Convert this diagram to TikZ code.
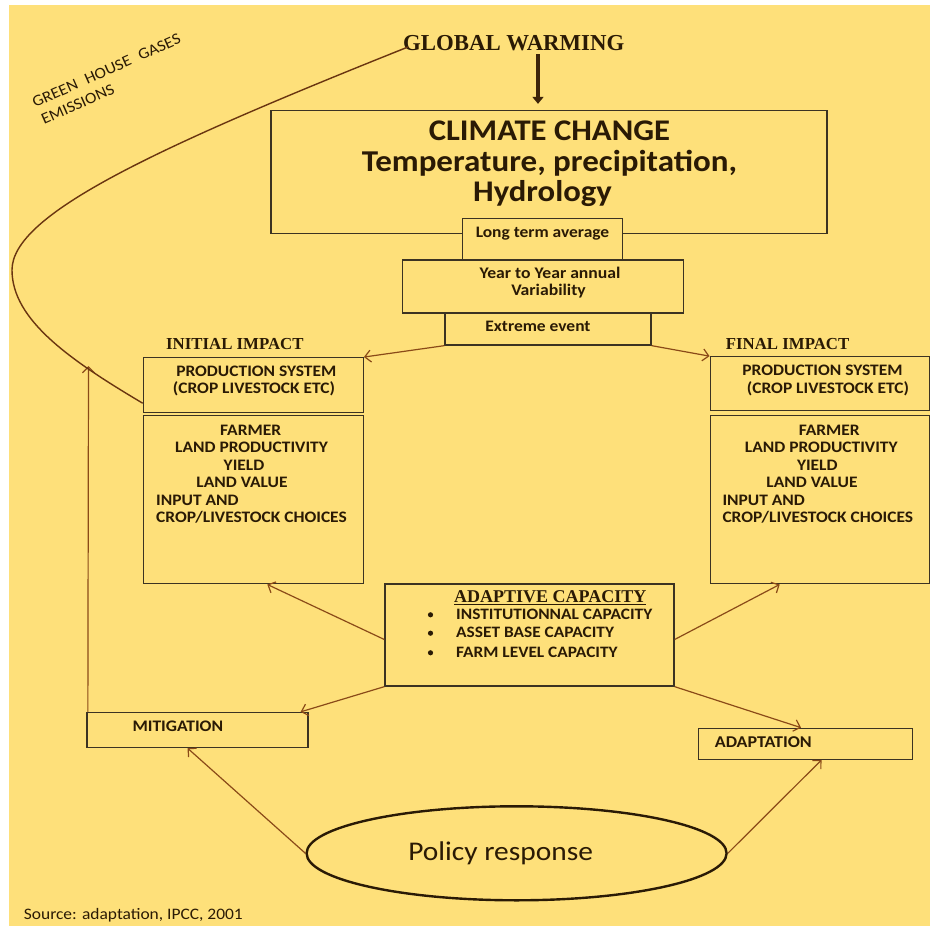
\documentclass[tikz,border=0pt]{standalone}
\usepackage{fontspec}
\setmainfont{Carlito}[FakeStretch=1.09]
\newfontfamily\tnr{Liberation Serif}
\usetikzlibrary{arrows.meta,calc,shapes.geometric}
\definecolor{bgy}{HTML}{FEE07A}
\definecolor{ink}{HTML}{2A1A05}
\definecolor{conncol}{HTML}{8A4A18}
\definecolor{curvecol}{HTML}{6A3510}
\definecolor{boxline}{HTML}{3C3322}
\newcommand{\fs}[1]{\fontsize{#1}{#1}\selectfont}
\begin{document}
\begin{tikzpicture}[x=1pt,y=-1pt,
  box/.style={draw=boxline,line width=1.3pt,fill=bgy,inner sep=0pt},
  lbl/.style={text=ink,inner sep=0pt,anchor=base,font=\bfseries\fs{16}},
  lbll/.style={text=ink,inner sep=0pt,anchor=base west,font=\bfseries\fs{16}},
  head/.style={text=ink,inner sep=0pt,anchor=base west,font=\tnr\bfseries\fs{16.8}},
  conn/.style={draw=conncol,line width=1.2pt,-{Straight Barb[length=6pt,width=12pt]}},
  bigarrow/.style={draw=ink!80!conncol,line width=4.5pt,-{Triangle[length=7pt,width=11pt]}}]
\useasboundingbox (0,0) rectangle (930,926);
\fill[bgy] (9,5) rectangle (930,926);

% top
\node[text=ink,inner sep=0pt,anchor=base west,font=\tnr\bfseries\fs{22.8}] (gw) at (403,50) {GLOBAL WARMING};
\node[box,minimum width=556,minimum height=123] (cc) at (549,172) {};
\node[text=ink,inner sep=0pt,anchor=base,font=\bfseries\fs{30}] (cc1) at (549.5,140) {CLIMATE CHANGE};
\node[text=ink,inner sep=0pt,anchor=base,font=\bfseries\fs{30.3}] (cc2) at (549.5,171.5) {Temperature, precipitation,};
\node[text=ink,inner sep=0pt,anchor=base,font=\bfseries\fs{30}] (cc3) at (542.5,201.5) {Hydrology};
\coordinate (gwa) at (538,54);
\draw[bigarrow] (gwa) -- ([xshift=-11pt,yshift=6pt]cc.north);

\node[box,minimum width=160,minimum height=41] (lta) at (542.5,239) {};
\node[lbl,font=\bfseries\fs{16}] at (542.5,237.3) {Long term average};
\node[box,minimum width=281,minimum height=53] (yty) at (543,286.5) {};
\node[lbl,font=\bfseries\fs{16.2}] at (550,278.3) {Year to Year annual};
\node[lbl,font=\bfseries\fs{16.2}] at (548.5,295.7) {Variability};
\node[box,minimum width=206,minimum height=32] (ext) at (548,329) {};
\node[lbl,font=\bfseries\fs{16}] at (538,331.7) {Extreme event};

% left impact
\node[head] (ih) at (166,349.3) {INITIAL IMPACT};
\node[box,minimum width=220,minimum height=55] (lps) at (253.3,385.2) {};
\node[lbl] at (256.3,376) {PRODUCTION SYSTEM};
\node[lbl] at (254,393) {(CROP LIVESTOCK ETC)};
\node[box,minimum width=220,minimum height=168] (lfa) at (253.3,499.8) {};
\node[lbl] at (250.7,435) {FARMER};
\node[lbl] at (251.5,452.7) {LAND PRODUCTIVITY};
\node[lbl] at (244,470) {YIELD};
\node[lbl] at (242,487) {LAND VALUE};
\node[lbll] at (156,505.5) {INPUT AND};
\node[lbll] at (156,522.7) {CROP/LIVESTOCK CHOICES};

% right impact
\node[head] (fh) at (725.7,349) {FINAL IMPACT};
\node[box,minimum width=219,minimum height=54] (rps) at (819.7,383.8) {};
\node[lbl] at (822.5,375) {PRODUCTION SYSTEM};
\node[lbl] at (828,393) {(CROP LIVESTOCK ETC)};
\node[box,minimum width=219,minimum height=168] (rfa) at (819.7,499.8) {};
\node[lbl] at (829.3,435) {FARMER};
\node[lbl] at (821.3,452.7) {LAND PRODUCTIVITY};
\node[lbl] at (817.3,470) {YIELD};
\node[lbl] at (812,487) {LAND VALUE};
\node[lbll] at (722.3,505.5) {INPUT AND};
\node[lbll] at (722.3,522.7) {CROP/LIVESTOCK CHOICES};

% adaptive capacity
\node[box,minimum width=289,minimum height=102] (ac) at (529.5,635) {};
\node[head,font=\tnr\bfseries\fs{18}] (acH) at (454,602.3) {\underline{ADAPTIVE CAPACITY}};
\foreach \yy/\tt in {619.3/INSTITUTIONNAL CAPACITY,637.7/ASSET BASE CAPACITY,657.3/FARM LEVEL CAPACITY}{
  \node[lbll,font=\bfseries\fs{15.9}] at (456,\yy) {\tt};
  \fill[ink] (430.5,\yy-4.5) circle (2.6);
}

% responses
\node[box,minimum width=221,minimum height=35] (mit) at (197.5,730) {};
\node[lbll,font=\bfseries\fs{16.1}] at (132.3,731.7) {MITIGATION};
\node[box,minimum width=214,minimum height=31] (ada) at (805.5,743.8) {};
\node[lbll,font=\bfseries\fs{16.5}] at (714.7,747.3) {ADAPTATION};
\node[draw=ink,line width=2.4pt,ellipse,minimum width=420,minimum height=94,inner sep=0pt] (pol) at (516.6,853.3) {};
\node[text=ink,inner sep=0pt,anchor=base,font=\fs{27}] at (500.6,860.7) {Policy response};

\node[text=ink,inner sep=0pt,anchor=base west,font=\fs{16}] (src) at (23.7,919.3) {Source: adaptation, IPCC, 2001};

\node[text=ink,inner sep=0pt,anchor=base west,rotate=24,font=\fontsize{15.8}{19.2}\selectfont] (ghg) at (35,108)
  {\begin{tabular}[t]{@{}l@{}}GREEN\hspace{9pt}HOUSE\hspace{9pt}GASES\\\hspace{1.3pt}EMISSIONS\end{tabular}};

% connectors
\draw[conn] (ext.south west) -- (lps.north east);
\draw[conn] (ext.south east) -- (rps.north west);
\draw[conn] ([yshift=-4.5pt]ac.west) -- ([xshift=14pt]lfa.south);
\draw[conn] ([yshift=-4.5pt]ac.east) -- ([xshift=-40pt]rfa.south);
\draw[conn] (ac.south west) -- ([xshift=-8pt]mit.north east);
\draw[conn] (ac.south east) -- ([xshift=-4.5pt]ada.north);
\draw[conn] (pol.west) -- ([xshift=-10pt]mit.south);
\draw[conn] (pol.east) -- ([xshift=16pt]ada.south);
\coordinate (ghgtip) at (88.5,366);
\draw[conn] ([xshift=1.5pt]mit.north west) -- (ghgtip);
\coordinate (gwstart) at (408,47);
\draw[curvecol,line width=1.4pt] (gwstart) .. controls (150,150) and (12,215) .. (12,270)
   .. controls (12,320) and (70,360) .. ([yshift=-18pt]lps.west);
\end{tikzpicture}
\end{document}
